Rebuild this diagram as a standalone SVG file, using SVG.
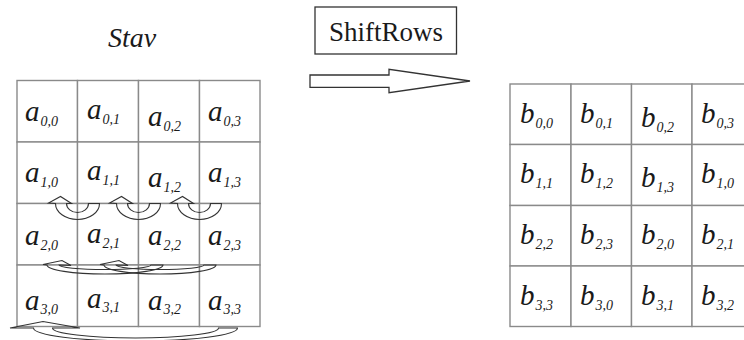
<svg xmlns="http://www.w3.org/2000/svg" width="744" height="340" viewBox="0 0 744 340">
<style>
.cell{fill:#fff;stroke:#8a8a8a;stroke-width:1.4}
.v{font-family:'Liberation Serif','Times New Roman',Tinos,'DejaVu Serif',serif;font-style:italic;font-size:29px;fill:#1a1a1a}
.s{font-size:14px}
.lbl{font-family:'Liberation Serif','Times New Roman',Tinos,'DejaVu Serif',serif;fill:#1a1a1a}
.arr{fill:none;stroke:#333;stroke-width:1.1;stroke-linejoin:miter}
.big{fill:#fff;stroke:#333;stroke-width:1.3}
</style>
<rect width="744" height="340" fill="#fff"/>
<text class="lbl" x="108" y="47" font-size="28" font-style="italic">Stav</text>
<g id="shiftrows">
<rect class="big" x="315" y="7" width="141.5" height="47"/>
<text class="lbl" x="329" y="41" font-size="27">ShiftRows</text>
</g>
<g id="left-grid">
<g id="a00"><rect class="cell" x="17" y="80.5" width="60.5" height="61.5"/><text class="v" x="25" y="121">a<tspan class="s" dx="1" dy="5">0,0</tspan></text></g>
<g id="a01"><rect class="cell" x="77.5" y="80.5" width="61" height="61.5"/><text class="v" x="87" y="119">a<tspan class="s" dx="1" dy="5">0,1</tspan></text></g>
<g id="a02"><rect class="cell" x="138.5" y="80.5" width="61" height="61.5"/><text class="v" x="148" y="126">a<tspan class="s" dx="1" dy="5">0,2</tspan></text></g>
<g id="a03"><rect class="cell" x="199.5" y="80.5" width="60.5" height="61.5"/><text class="v" x="208" y="121">a<tspan class="s" dx="1" dy="5">0,3</tspan></text></g>
<g id="a10"><rect class="cell" x="17" y="142" width="60.5" height="61.5"/><text class="v" x="25" y="182">a<tspan class="s" dx="1" dy="5">1,0</tspan></text></g>
<g id="a11"><rect class="cell" x="77.5" y="142" width="61" height="61.5"/><text class="v" x="87" y="180">a<tspan class="s" dx="1" dy="5">1,1</tspan></text></g>
<g id="a12"><rect class="cell" x="138.5" y="142" width="61" height="61.5"/><text class="v" x="148" y="187">a<tspan class="s" dx="1" dy="5">1,2</tspan></text></g>
<g id="a13"><rect class="cell" x="199.5" y="142" width="60.5" height="61.5"/><text class="v" x="208" y="182">a<tspan class="s" dx="1" dy="5">1,3</tspan></text></g>
<g id="a20"><rect class="cell" x="17" y="203.5" width="60.5" height="61.5"/><text class="v" x="25" y="245">a<tspan class="s" dx="1" dy="5">2,0</tspan></text></g>
<g id="a21"><rect class="cell" x="77.5" y="203.5" width="61" height="61.5"/><text class="v" x="87" y="243">a<tspan class="s" dx="1" dy="5">2,1</tspan></text></g>
<g id="a22"><rect class="cell" x="138.5" y="203.5" width="61" height="61.5"/><text class="v" x="148" y="245">a<tspan class="s" dx="1" dy="5">2,2</tspan></text></g>
<g id="a23"><rect class="cell" x="199.5" y="203.5" width="60.5" height="61.5"/><text class="v" x="208" y="245">a<tspan class="s" dx="1" dy="5">2,3</tspan></text></g>
<g id="a30"><rect class="cell" x="17" y="265" width="60.5" height="61.5"/><text class="v" x="25" y="310">a<tspan class="s" dx="1" dy="4">3,0</tspan></text></g>
<g id="a31"><rect class="cell" x="77.5" y="265" width="61" height="61.5"/><text class="v" x="87" y="308">a<tspan class="s" dx="1" dy="4">3,1</tspan></text></g>
<g id="a32"><rect class="cell" x="138.5" y="265" width="61" height="61.5"/><text class="v" x="148" y="310">a<tspan class="s" dx="1" dy="4">3,2</tspan></text></g>
<g id="a33"><rect class="cell" x="199.5" y="265" width="60.5" height="61.5"/><text class="v" x="208" y="310">a<tspan class="s" dx="1" dy="4">3,3</tspan></text></g>
</g>
<g id="right-grid">
<g id="b00"><rect class="cell" x="510" y="84" width="61" height="60.5"/><text class="v" x="520" y="123">b<tspan class="s" dx="1" dy="5">0,0</tspan></text></g>
<g id="b01"><rect class="cell" x="571" y="84" width="60.5" height="60.5"/><text class="v" x="580" y="123">b<tspan class="s" dx="1" dy="5">0,1</tspan></text></g>
<g id="b02"><rect class="cell" x="631.5" y="84" width="60.5" height="60.5"/><text class="v" x="641" y="127">b<tspan class="s" dx="1" dy="5">0,2</tspan></text></g>
<g id="b03"><rect class="cell" x="692" y="84" width="61" height="60.5"/><text class="v" x="701" y="123">b<tspan class="s" dx="1" dy="5">0,3</tspan></text></g>
<g id="b10"><rect class="cell" x="510" y="144.5" width="61" height="61"/><text class="v" x="520" y="183">b<tspan class="s" dx="1" dy="5">1,1</tspan></text></g>
<g id="b11"><rect class="cell" x="571" y="144.5" width="60.5" height="61"/><text class="v" x="580" y="183">b<tspan class="s" dx="1" dy="5">1,2</tspan></text></g>
<g id="b12"><rect class="cell" x="631.5" y="144.5" width="60.5" height="61"/><text class="v" x="641" y="187">b<tspan class="s" dx="1" dy="5">1,3</tspan></text></g>
<g id="b13"><rect class="cell" x="692" y="144.5" width="61" height="61"/><text class="v" x="701" y="183">b<tspan class="s" dx="1" dy="5">1,0</tspan></text></g>
<g id="b20"><rect class="cell" x="510" y="205.5" width="61" height="60.5"/><text class="v" x="520" y="244">b<tspan class="s" dx="1" dy="5">2,2</tspan></text></g>
<g id="b21"><rect class="cell" x="571" y="205.5" width="60.5" height="60.5"/><text class="v" x="580" y="244">b<tspan class="s" dx="1" dy="5">2,3</tspan></text></g>
<g id="b22"><rect class="cell" x="631.5" y="205.5" width="60.5" height="60.5"/><text class="v" x="641" y="244">b<tspan class="s" dx="1" dy="5">2,0</tspan></text></g>
<g id="b23"><rect class="cell" x="692" y="205.5" width="61" height="60.5"/><text class="v" x="701" y="244">b<tspan class="s" dx="1" dy="5">2,1</tspan></text></g>
<g id="b30"><rect class="cell" x="510" y="266" width="61" height="60.5"/><text class="v" x="520" y="305">b<tspan class="s" dx="1" dy="5">3,3</tspan></text></g>
<g id="b31"><rect class="cell" x="571" y="266" width="60.5" height="60.5"/><text class="v" x="580" y="305">b<tspan class="s" dx="1" dy="5">3,0</tspan></text></g>
<g id="b32"><rect class="cell" x="631.5" y="266" width="60.5" height="60.5"/><text class="v" x="641" y="305">b<tspan class="s" dx="1" dy="5">3,1</tspan></text></g>
<g id="b33"><rect class="cell" x="692" y="266" width="61" height="60.5"/><text class="v" x="701" y="305">b<tspan class="s" dx="1" dy="5">3,2</tspan></text></g>
</g>
<g id="connectors">
<polygon class="big" points="310,75 389,75 389,69.3 470,81 389,92.7 389,87.3 310,87.3"/>
<path class="arr" d="M99.5,203.5 A22,16 0 0 1 55.5,203.5 L48.5,203 L60.5,196.5 L71.5,203.5 L66.5,203.5 A11,9 0 0 0 88.5,203.5 Z"/>
<path class="arr" d="M160.5,203.5 A22,16 0 0 1 116.5,203.5 L109.5,203 L121.5,196.5 L132.5,203.5 L127.5,203.5 A11,9 0 0 0 149.5,203.5 Z"/>
<path class="arr" d="M221.5,203.5 A22,16 0 0 1 177.5,203.5 L170.5,203 L182.5,196.5 L193.5,203.5 L188.5,203.5 A11,9 0 0 0 210.5,203.5 Z"/>
<path class="arr" d="M163,265 A58,9 0 0 1 47,265 L43,264.5 L62,260.5 L71,265.5 L59,265 A46,4.5 0 0 0 151,265 Z"/>
<path class="arr" d="M216,265 A56,9 0 0 1 104,265 L100,264.5 L119,260.5 L128,265.5 L116,265 A44,4.5 0 0 0 204,265 Z"/>
<path class="arr" d="M237.5,328 A102,13 0 0 1 33.5,328 L10,328 L43,321.5 L80,328 L52.5,328 A83,10 0 0 0 218.5,328 Z"/>
</g>
</svg>
